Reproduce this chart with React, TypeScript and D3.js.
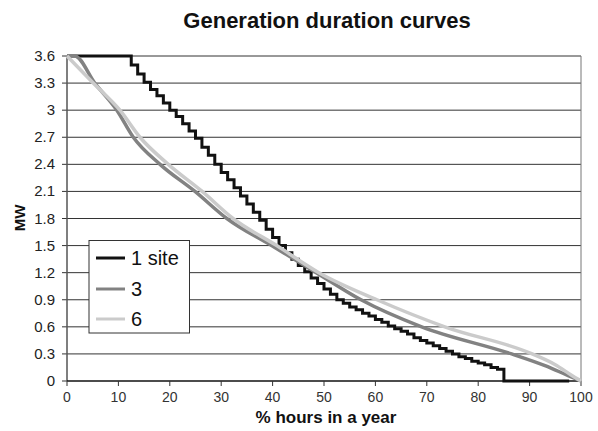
import React from "react";
import * as d3 from "d3";

const title = "Generation duration curves";
const xTicks = [0, 10, 20, 30, 40, 50, 60, 70, 80, 90, 100];
const yTicks = [0, 0.3, 0.6, 0.9, 1.2, 1.5, 1.8, 2.1, 2.4, 2.7, 3, 3.3, 3.6];
const seriesNames = ["1 site", "3", "6"];
const seriesColors = ["#111111", "#828282", "#cbcbcb"];

// 1 site: stepped duration curve
const hours1 = [0, 12.5, 13.75, 15, 16.25, 17.5, 18.75, 20, 21.25, 22.5, 23.75, 25, 26.25, 27.5, 28.75, 30, 31.25, 32.5, 33.75, 35, 36.25, 37.5, 38.75, 40, 41.25, 42.5, 43.75, 45, 46.25, 47.5, 48.75, 50, 51.25, 52.5, 53.75, 55, 56.25, 57.5, 58.75, 60, 61.25, 62.5, 63.75, 65, 66.25, 67.5, 68.75, 70, 71.25, 72.5, 73.75, 75, 76.25, 77.5, 78.75, 80, 81.25, 82.5, 83.75, 85, 97.7];
const mw1 = [3.6, 3.5, 3.4, 3.31, 3.23, 3.16, 3.08, 3.0, 2.93, 2.85, 2.77, 2.69, 2.59, 2.5, 2.4, 2.31, 2.23, 2.14, 2.05, 1.96, 1.87, 1.78, 1.68, 1.59, 1.5, 1.42, 1.35, 1.28, 1.21, 1.14, 1.08, 1.02, 0.96, 0.9, 0.86, 0.82, 0.79, 0.75, 0.72, 0.68, 0.65, 0.61, 0.58, 0.55, 0.52, 0.48, 0.45, 0.42, 0.39, 0.36, 0.33, 0.3, 0.27, 0.25, 0.22, 0.2, 0.18, 0.15, 0.13, 0, 0];

// 3 sites
const hours3 = [0, 1.5, 5.4, 9.7, 12.9, 18.1, 24.9, 31.1, 39.8, 48.5, 57.2, 69, 86.5, 93, 97.5, 100];
const mw3 = [3.6, 3.6, 3.3, 3.0, 2.7, 2.4, 2.1, 1.8, 1.5, 1.2, 0.9, 0.6, 0.3, 0.17, 0.06, 0];

// 6 sites
const hours6 = [0, 5.1, 10.3, 14.2, 19.7, 26.3, 32.3, 40.8, 49, 60.3, 73.5, 90.5, 95, 98, 100];
const mw6 = [3.6, 3.3, 3.0, 2.7, 2.4, 2.1, 1.8, 1.5, 1.2, 0.9, 0.6, 0.3, 0.18, 0.07, 0];

const W = 598;
const H = 431;
const FONT = "'Liberation Sans', Arial, sans-serif";

export default function App() {
  const left = 67, right = 581, top = 56, bottom = 381;
  const x = d3.scaleLinear().domain([0, 100]).range([left, right]);
  const y = d3.scaleLinear().domain([0, 3.6]).range([bottom, top]);

  const toPts = (hs: number[], vs: number[]) => hs.map((h, i) => [h, vs[i]] as [number, number]);
  const stepLine = d3.line<[number, number]>().x(d => x(d[0])).y(d => y(d[1])).curve(d3.curveStepAfter);
  const smoothLine = d3.line<[number, number]>().x(d => x(d[0])).y(d => y(d[1])).curve(d3.curveMonotoneX);

  const legendY = [258, 289, 319];

  return (
    <svg width={W} height={H} style={{ position: "absolute", left: 0, top: 0, background: "#fff" }} fontFamily={FONT}>
      <rect x={0} y={0} width={W} height={H} fill="#fff" />
      <text x={327} y={28} textAnchor="middle" fontSize={22} fontWeight="bold" fill="#111">{title}</text>

      {yTicks.map(t => (
        <g key={"y" + t}>
          {t > 0 && <line x1={left} x2={right} y1={y(t)} y2={y(t)} stroke="#333" strokeWidth={1} />}
          <line x1={left - 5} x2={left} y1={y(t)} y2={y(t)} stroke="#333" />
          <text x={55} y={y(t) + 5} textAnchor="end" fontSize={15} fill="#222">{String(t)}</text>
        </g>
      ))}
      <line x1={right} x2={right} y1={top} y2={bottom} stroke="#777" strokeWidth={1} />
      <line x1={left} x2={left} y1={top} y2={bottom} stroke="#555" strokeWidth={1.5} />
      <line x1={left} x2={right} y1={bottom} y2={bottom} stroke="#111" strokeWidth={1.5} />
      {xTicks.map(t => (
        <g key={"x" + t}>
          <line x1={x(t)} x2={x(t)} y1={bottom} y2={bottom + 5} stroke="#333" />
          <text x={x(t)} y={bottom + 21} textAnchor="middle" fontSize={14} fill="#333">{String(t)}</text>
        </g>
      ))}

      <path d={stepLine(toPts(hours1, mw1)) || ""} fill="none" stroke={seriesColors[0]} strokeWidth={3} strokeLinejoin="miter" />
      <path d={smoothLine(toPts(hours3, mw3)) || ""} fill="none" stroke={seriesColors[1]} strokeWidth={3.5} />
      <path d={smoothLine(toPts(hours6, mw6)) || ""} fill="none" stroke={seriesColors[2]} strokeWidth={3.5} />

      <text x={326} y={423} textAnchor="middle" fontSize={17} fontWeight="bold" fill="#111">% hours in a year</text>
      <text transform="translate(25,218) rotate(-90)" textAnchor="middle" fontSize={15} fontWeight="bold" fill="#111">MW</text>

      <rect x={89} y={240.5} width={100.5} height={92.5} fill="#fff" stroke="#333" strokeWidth={1} />
      {seriesNames.map((n, i) => (
        <g key={n}>
          <line x1={96} x2={125} y1={legendY[i]} y2={legendY[i]} stroke={seriesColors[i]} strokeWidth={3} />
          <text x={131} y={legendY[i] + 7} fontSize={20} fill="#111">{n}</text>
        </g>
      ))}
    </svg>
  );
}
